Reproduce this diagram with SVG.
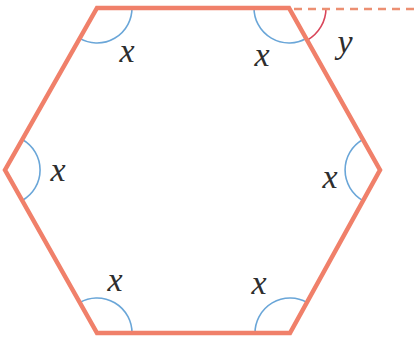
<svg xmlns="http://www.w3.org/2000/svg" width="420" height="342" viewBox="0 0 420 342">
  <style>
    .edge { fill: none; stroke: #f0806a; stroke-width: 4.5; stroke-linejoin: miter; }
    .ext { fill: none; stroke: #ec8f72; stroke-width: 2.5; stroke-dasharray: 8 6; }
    .arc { fill: none; stroke: #6aa6d8; stroke-width: 1.6; }
    .arcy { fill: none; stroke: #d9465a; stroke-width: 1.6; }
    .lbl { font-family: "Liberation Serif", "DejaVu Serif", serif; font-style: italic; font-size: 34px; fill: #2e2e2e; text-anchor: middle; }
  </style>
  <rect width="420" height="342" fill="#ffffff"/>
  <g id="angles">
    <path class="arc" d="M132,8 A35,35 0 0 1 79.7,38.4"/>
    <path class="arc" d="M254,8 A35,35 0 0 0 306.1,38.5"/>
    <path class="arcy" d="M307.1,40.3 A37,37 0 0 0 326,8"/>
    <path class="arc" d="M362.9,139.5 A35,35 0 0 0 363.1,200.6"/>
    <path class="arc" d="M22.3,139.5 A35,35 0 0 1 22.2,200.5"/>
    <path class="arc" d="M132,333 A35,35 0 0 0 79.8,302.5"/>
    <path class="arc" d="M255,333 A35,35 0 0 1 306.9,302.4"/>
  </g>
  <g id="extension">
    <line class="ext" x1="294" y1="9" x2="420" y2="9"/>
  </g>
  <g id="hexagon">
    <polygon class="edge" points="97,8 289,8 380,170 290,333 97,333 5,170"/>
  </g>
  <g id="labels">
    <text class="lbl" x="127" y="62">x</text>
    <text class="lbl" x="262" y="66">x</text>
    <text class="lbl" x="345" y="53">y</text>
    <text class="lbl" x="58" y="181">x</text>
    <text class="lbl" x="330" y="188">x</text>
    <text class="lbl" x="115" y="291">x</text>
    <text class="lbl" x="259" y="294">x</text>
  </g>
</svg>
